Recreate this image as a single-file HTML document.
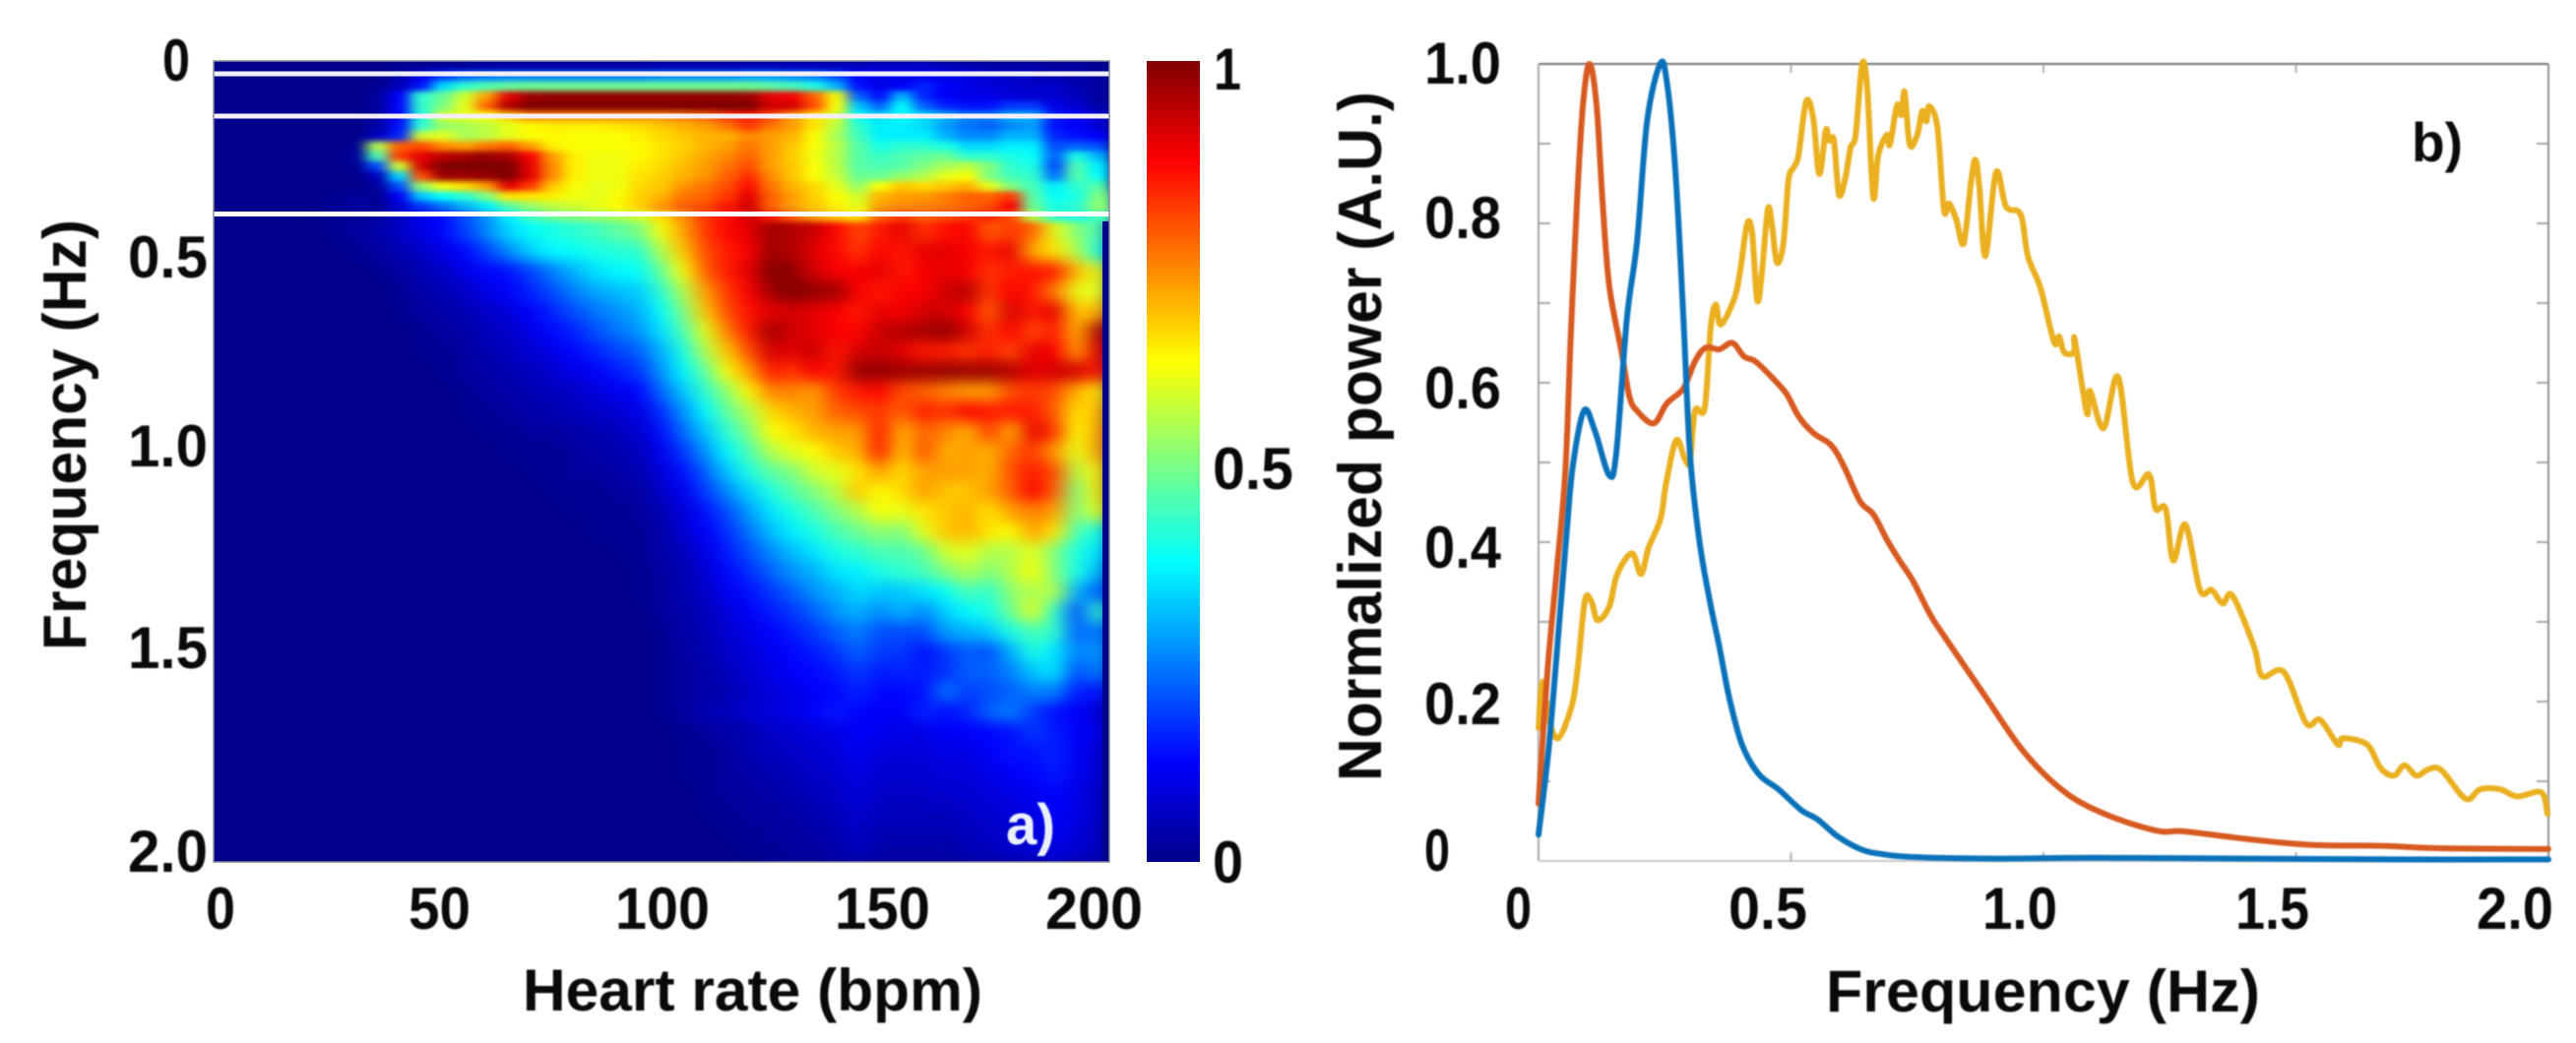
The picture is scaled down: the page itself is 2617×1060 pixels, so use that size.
<!DOCTYPE html>
<html lang="en">
<head>
<meta charset="utf-8">
<title>Heart rate frequency power</title>
<style>
html,body{margin:0;padding:0;background:#fff;}
svg{display:block;}
text{font-family:"Liberation Sans",sans-serif;font-weight:bold;fill:#0a0a0a;}
</style>
</head>
<body>
<svg id="figure" xmlns="http://www.w3.org/2000/svg" width="2617" height="1060" viewBox="0 0 2617 1060">
<defs>
<filter id="heat-blur-top" x="-2%" y="-5%" width="104%" height="110%" color-interpolation-filters="sRGB"><feGaussianBlur stdDeviation="7 3"/></filter>
<filter id="heat-blur-low" x="-3%" y="-3%" width="106%" height="106%" color-interpolation-filters="sRGB"><feGaussianBlur stdDeviation="10 7"/></filter>
<filter id="soft" x="-5%" y="-5%" width="110%" height="110%" color-interpolation-filters="sRGB"><feGaussianBlur stdDeviation="0.9"/></filter>
<clipPath id="heat-clip"><rect x="217" y="62" width="910" height="814"/></clipPath>
<linearGradient id="jet-gradient" x1="0" y1="1" x2="0" y2="0">
<stop offset="0" stop-color="#000088"/><stop offset="0.125" stop-color="#0000ff"/><stop offset="0.375" stop-color="#00ffff"/><stop offset="0.625" stop-color="#ffff00"/><stop offset="0.875" stop-color="#ff0000"/><stop offset="1" stop-color="#800000"/>
</linearGradient>
</defs>

<g>
<rect x="217" y="62" width="910" height="814" fill="#00008a"/>
<g clip-path="url(#heat-clip)">
<g id="heat-cells-low" filter="url(#heat-blur-low)"></g>
<g id="heat-cells-top" filter="url(#heat-blur-top)"></g>
</g>
<rect x="1120" y="225" width="7" height="651" fill="#00008a"/>
<rect x="217" y="72.5" width="910" height="5" fill="#eeeeff"/>
<rect x="217" y="115.5" width="910" height="5" fill="#f6eef6"/>
<rect x="217" y="215" width="910" height="5" fill="#ffffff"/>
<rect x="217" y="62" width="910" height="814" fill="none" stroke="#8a8a98" stroke-width="1.5"/>
<text x="1022" y="858" font-size="58" textLength="50" lengthAdjust="spacingAndGlyphs" style="fill:#eaf0ff" filter="url(#soft)">a)</text>
</g>

<g>
<rect x="1165" y="62" width="54" height="814" fill="url(#jet-gradient)"/>
<g filter="url(#soft)">
<text x="1233" y="91" font-size="60" textLength="28" lengthAdjust="spacingAndGlyphs">1</text>
<text x="1232" y="497" font-size="60" textLength="82" lengthAdjust="spacingAndGlyphs">0.5</text>
<text x="1232" y="897" font-size="60" textLength="31" lengthAdjust="spacingAndGlyphs">0</text>
</g>
</g>

<g filter="url(#soft)">
<text x="165" y="82" font-size="60" textLength="28" lengthAdjust="spacingAndGlyphs">0</text>
<text x="130" y="282" font-size="60" textLength="81" lengthAdjust="spacingAndGlyphs">0.5</text>
<text x="130" y="474" font-size="60" textLength="81" lengthAdjust="spacingAndGlyphs">1.0</text>
<text x="130" y="679" font-size="60" textLength="81" lengthAdjust="spacingAndGlyphs">1.5</text>
<text x="130" y="886" font-size="60" textLength="81" lengthAdjust="spacingAndGlyphs">2.0</text>
<text x="209" y="944" font-size="60" textLength="30" lengthAdjust="spacingAndGlyphs">0</text>
<text x="415" y="944" font-size="60" textLength="63" lengthAdjust="spacingAndGlyphs">50</text>
<text x="625" y="944" font-size="60" textLength="96" lengthAdjust="spacingAndGlyphs">100</text>
<text x="848" y="944" font-size="60" textLength="97" lengthAdjust="spacingAndGlyphs">150</text>
<text x="1062" y="944" font-size="60" textLength="99" lengthAdjust="spacingAndGlyphs">200</text>
<text x="531" y="1027" font-size="60" textLength="467" lengthAdjust="spacingAndGlyphs">Heart rate (bpm)</text>
<text transform="translate(87,661) rotate(-90)" font-size="62" textLength="438" lengthAdjust="spacingAndGlyphs">Frequency (Hz)</text>
</g>

<g>
<g id="axes-b" filter="url(#soft)"></g>
<g id="lines-b" filter="url(#soft)"></g>
<g filter="url(#soft)">
<text x="1447" y="85" font-size="60" textLength="78" lengthAdjust="spacingAndGlyphs">1.0</text>
<text x="1447" y="242" font-size="60" textLength="78" lengthAdjust="spacingAndGlyphs">0.8</text>
<text x="1447" y="415" font-size="60" textLength="78" lengthAdjust="spacingAndGlyphs">0.6</text>
<text x="1447" y="577" font-size="60" textLength="78" lengthAdjust="spacingAndGlyphs">0.4</text>
<text x="1447" y="736" font-size="60" textLength="78" lengthAdjust="spacingAndGlyphs">0.2</text>
<text x="1447" y="885" font-size="60" textLength="26" lengthAdjust="spacingAndGlyphs">0</text>
<text x="1529" y="944" font-size="60" textLength="27" lengthAdjust="spacingAndGlyphs">0</text>
<text x="1756" y="944" font-size="60" textLength="80" lengthAdjust="spacingAndGlyphs">0.5</text>
<text x="2014" y="944" font-size="60" textLength="76" lengthAdjust="spacingAndGlyphs">1.0</text>
<text x="2271" y="944" font-size="60" textLength="75" lengthAdjust="spacingAndGlyphs">1.5</text>
<text x="2516" y="944" font-size="60" textLength="78" lengthAdjust="spacingAndGlyphs">2.0</text>
<text x="1855" y="1028" font-size="60" textLength="441" lengthAdjust="spacingAndGlyphs">Frequency (Hz)</text>
<text transform="translate(1403,794) rotate(-90)" font-size="62" textLength="701" lengthAdjust="spacingAndGlyphs">Normalized power (A.U.)</text>
<text x="2450" y="164" font-size="56" textLength="52" lengthAdjust="spacingAndGlyphs">b)</text>
</g>
</g>
</svg>

<script>
// Heatmap bin edges
const heatBpmEdges = [0,5,10,15,20,25,30,35,40,45,50,55,60,65,70,75,80,85,90,95,100,105,110,115,120,125,130,135,140,145,150,155,160,165,170,175,180,185,190,195,200,205];
const heatFreqEdges = [0,0.025,0.05,0.075,0.1,0.125,0.15,0.175,0.2,0.225,0.25,0.275,0.3,0.325,0.35,0.375,0.4,0.45,0.5,0.55,0.6,0.65,0.7,0.75,0.8,0.85,0.9,0.95,1.0,1.05,1.1,1.15,1.2,1.25,1.3,1.35,1.4,1.45,1.5,1.55,1.6,1.65,1.7,1.75,1.8,1.85,1.9,1.95,2.0];
// First heart rate bin with measurable power in each frequency row
const heatRowStart = [8,8,7,7,7,7,7,7,6,6,6,7,7,7,7,6,5,6,7,8,8,9,9,10,11,11,12,13,14,15,16,17,18,19,19,20,20,20,20,20,20,21,21,21,22,22,23,24];
// Normalized power in percent, listed from that first bin to the last bin
const heatValues = [
[2,2,3,3,4,4,4,4,4,4,4,4,5,5,5,5,6,6,6,6,6,6,7,7,7,6,5,4,4,4,3,3,2],
[4,10,18,22,24,25,25,25,25,25,25,25,26,26,26,26,28,28,26,25,20,12,10,10,11,10,9,8,7,6,5,4,3],
[2,6,14,34,42,45,47,48,48,48,48,48,48,48,48,48,48,48,46,44,40,30,14,10,12,16,12,10,9,8,7,7,5,3],
[3,12,42,48,58,72,90,97,98,98,98,98,98,98,98,98,98,97,90,88,78,62,22,14,30,16,12,10,10,9,8,8,6,3],
[3,13,42,50,60,78,95,100,100,100,100,100,100,100,100,100,100,100,92,92,80,62,32,22,38,22,16,14,14,18,18,10,8,4],
[3,12,40,58,60,62,68,74,74,74,74,74,74,74,76,78,82,85,80,72,65,58,38,34,38,34,30,25,25,30,30,15,12,8],
[4,14,42,52,54,56,60,63,64,64,64,65,66,68,70,72,76,82,76,72,65,56,42,36,36,34,28,24,22,26,28,14,12,8],
[6,16,58,60,54,56,60,62,63,62,62,62,64,66,68,70,70,74,72,70,62,54,44,36,36,36,30,26,26,30,30,16,14,12],
[2,55,78,80,74,72,76,78,72,64,62,62,62,63,65,67,70,72,76,72,68,62,56,46,40,42,42,40,34,34,36,36,20,22,20],
[3,45,82,90,94,96,98,96,88,72,64,61,61,63,65,68,71,74,78,72,67,61,55,46,43,45,47,48,42,42,40,38,22,40,30],
[2,20,58,92,100,100,100,100,90,74,64,61,61,64,66,69,72,76,80,72,68,62,56,46,45,46,50,54,56,50,42,40,20,45,36],
[6,34,80,97,97,98,100,90,74,64,61,61,65,67,70,73,78,83,74,68,62,57,48,48,52,55,60,62,50,44,42,24,46,38],
[3,20,52,62,66,72,90,82,68,62,60,61,66,68,73,76,80,86,76,70,66,60,52,62,68,66,68,70,60,50,44,36,42,46],
[2,12,32,38,42,50,65,65,64,61,60,62,67,70,76,78,82,90,78,72,67,62,58,70,72,72,75,78,78,82,46,38,40,50],
[2,8,18,24,30,36,46,52,56,58,60,63,67,73,78,80,85,92,78,72,68,64,60,72,74,75,76,78,80,88,48,40,42,52],
[2,3,6,10,14,20,27,36,44,48,50,52,54,58,66,74,82,86,92,85,78,72,68,65,78,82,78,80,82,84,80,55,42,40,44],
[2,3,4,7,10,13,19,26,34,38,40,42,44,47,50,62,72,82,87,90,97,95,93,87,80,85,90,82,86,88,78,82,78,60,50,45],
[2,3,5,7,10,13,19,26,33,37,38,40,41,42,55,68,80,85,88,97,95,90,87,82,88,85,90,90,88,85,90,70,65,55,40],
[2,3,5,7,10,13,14,19,25,30,35,37,38,48,62,78,85,90,100,98,92,88,88,90,85,88,90,88,82,85,86,85,70,60],
[2,4,5,7,10,12,16,20,25,29,31,33,42,55,72,82,88,97,100,98,97,88,85,88,88,92,95,82,88,85,75,60,60],
[2,3,4,5,7,9,12,16,20,24,27,30,38,50,68,80,86,90,92,90,88,85,90,88,92,92,88,78,92,85,90,68,70],
[2,3,4,6,7,10,13,16,20,24,27,35,45,60,75,85,97,92,90,88,87,93,95,96,98,92,82,88,80,85,70,95],
[2,2,3,5,6,8,10,13,16,19,22,30,40,55,68,80,92,90,93,85,92,93,90,85,85,82,85,80,90,88,72,90],
[2,3,4,5,6,8,10,12,15,18,27,37,47,62,72,85,82,88,85,98,98,97,97,98,97,97,95,90,92,92,85],
[2,3,4,5,6,7,9,11,13,23,32,42,52,63,75,75,72,82,85,87,80,78,75,72,72,80,82,80,70,65],
[2,2,3,4,5,6,7,8,10,17,27,37,47,55,66,70,72,78,80,82,78,85,82,88,85,85,85,78,65,70],
[2,2,3,3,4,5,6,8,14,23,32,42,50,62,65,70,72,72,85,70,78,75,70,82,70,90,82,62,72],
[2,2,2,3,4,5,6,11,18,27,37,45,55,60,62,68,70,85,68,80,70,72,70,78,82,72,60,72],
[2,2,3,3,4,5,9,14,22,32,40,47,50,58,60,65,72,66,72,72,72,70,80,85,80,55,65],
[2,2,2,3,3,7,11,18,26,33,40,46,50,56,68,62,66,72,68,68,72,78,88,78,50,65],
[2,2,2,3,5,9,14,20,28,35,40,45,50,55,62,60,65,68,70,65,72,75,72,50,60],
[2,2,2,4,8,12,17,24,31,36,40,45,48,52,50,60,68,70,65,62,72,65,45,40],
[2,2,4,6,10,15,20,26,31,35,40,42,45,45,48,58,60,55,55,60,50,40,35],
[2,3,5,8,13,17,22,27,30,35,36,40,42,44,50,55,50,55,62,50,40,30],
[2,3,5,7,11,14,18,22,27,30,34,32,32,35,38,45,42,52,55,55,30,22],
[3,4,6,9,12,15,18,22,27,30,26,30,26,33,37,40,48,60,42,20,42],
[2,4,5,8,10,12,15,18,22,25,20,20,20,28,30,32,40,45,42,22,25],
[2,3,5,7,9,11,13,15,18,22,18,18,14,18,22,20,30,40,35,25,28],
[2,3,4,6,8,10,12,13,15,18,15,16,15,17,22,22,25,32,35,20,25],
[2,3,4,5,7,9,10,12,13,16,13,13,14,24,18,20,22,25,25,15,15],
[2,3,5,6,8,9,10,12,15,12,12,12,16,14,16,22,25,18,14,12,8].slice(0,21),
[2,3,4,5,7,8,9,10,12,11,10,10,12,12,13,14,18,15,12,10],
[2,2,3,5,6,7,8,9,11,9,9,9,10,10,12,14,14,16,12,8],
[2,2,3,4,5,6,7,8,10,8,8,8,9,9,10,12,13,15,11,8],
[2,3,3,4,5,6,7,9,7,7,7,8,8,9,10,11,13,10,7],
[2,2,3,3,4,5,6,8,6,6,6,6,7,8,9,10,12,10,7],
[2,2,3,3,4,5,7,5,5,5,5,6,7,8,9,11,9,6],
[2,2,3,3,4,6,4,4,4,4,5,6,7,8,9,8,6]
];

// Line chart series
const blueFreq = [0,0.02,0.04,0.056,0.068,0.09,0.111,0.14,0.154,0.175,0.195,0.215,0.241,0.254,0.271,0.287,0.30,0.319,0.339,0.358,0.378,0.403,0.436,0.475,0.52,0.553,0.592,0.637,0.676,0.74,0.9,1.1,1.4,1.7,2.0];
const blueValues = [0.033,0.14,0.29,0.414,0.496,0.565,0.541,0.484,0.512,0.681,0.776,0.928,1.0,0.978,0.867,0.681,0.51,0.40,0.327,0.269,0.204,0.146,0.109,0.09,0.064,0.052,0.031,0.015,0.009,0.005,0.003,0.004,0.003,0.002,0.002];
const redFreq = [0,0.018,0.036,0.053,0.064,0.076,0.088,0.101,0.115,0.127,0.14,0.164,0.18,0.195,0.228,0.254,0.287,0.31,0.331,0.358,0.384,0.407,0.429,0.462,0.491,0.515,0.544,0.579,0.604,0.637,0.663,0.69,0.715,0.741,0.774,0.797,0.879,0.961,1.043,1.125,1.224,1.28,1.41,1.534,1.67,1.78,2.0];
const redValues = [0.072,0.24,0.364,0.488,0.66,0.825,0.948,1.0,0.948,0.825,0.722,0.64,0.583,0.565,0.549,0.574,0.593,0.627,0.644,0.642,0.65,0.633,0.627,0.607,0.586,0.558,0.537,0.522,0.496,0.451,0.435,0.403,0.377,0.352,0.311,0.288,0.212,0.137,0.086,0.058,0.038,0.037,0.027,0.02,0.019,0.016,0.015];
const yellowFreq = [0,0.008,0.02,0.039,0.066,0.078,0.092,0.105,0.117,0.14,0.156,0.185,0.203,0.218,0.242,0.253,0.273,0.29,0.30,0.31,0.329,0.341,0.351,0.361,0.388,0.40,0.413,0.423,0.433,0.442,0.454,0.462,0.472,0.485,0.495,0.505,0.515,0.53,0.544,0.556,0.569,0.575,0.585,0.595,0.608,0.618,0.628,0.641,0.651,0.663,0.673,0.69,0.696,0.71,0.719,0.725,0.735,0.75,0.76,0.768,0.774,0.79,0.803,0.813,0.827,0.842,0.856,0.865,0.873,0.885,0.906,0.926,0.955,0.969,0.994,1.021,1.031,1.041,1.06,1.062,1.086,1.092,1.119,1.148,1.177,1.209,1.222,1.242,1.257,1.281,1.31,1.333,1.355,1.374,1.417,1.433,1.476,1.52,1.548,1.583,1.593,1.641,1.667,1.694,1.715,1.739,1.762,1.788,1.836,1.865,1.904,1.938,1.986,1.998];
const yellowValues = [0.167,0.225,0.179,0.154,0.195,0.244,0.327,0.325,0.302,0.319,0.36,0.386,0.36,0.393,0.43,0.475,0.528,0.504,0.502,0.565,0.568,0.669,0.698,0.673,0.706,0.743,0.799,0.788,0.704,0.735,0.817,0.80,0.751,0.775,0.854,0.87,0.886,0.953,0.932,0.862,0.917,0.904,0.904,0.836,0.858,0.895,0.911,1.0,0.969,0.833,0.886,0.911,0.899,0.948,0.936,0.965,0.899,0.911,0.941,0.928,0.947,0.92,0.817,0.825,0.805,0.775,0.849,0.88,0.846,0.759,0.864,0.821,0.811,0.759,0.719,0.651,0.658,0.638,0.638,0.654,0.562,0.59,0.543,0.607,0.475,0.485,0.442,0.442,0.377,0.422,0.34,0.34,0.323,0.333,0.269,0.232,0.237,0.173,0.177,0.146,0.154,0.146,0.117,0.107,0.12,0.107,0.115,0.114,0.078,0.09,0.09,0.081,0.086,0.059];
const seriesNames = ["blue-series","orange-series","yellow-series"];

// Tick values
const lineXTicks = [0.5,1.0,1.5];
const lineYTicks = [0.1,0.2,0.3,0.4,0.5,0.6,0.7,0.8,0.9];

const svgNS = "http://www.w3.org/2000/svg";
const topRowCount = 16;
const heatX = bpm => 217 + (bpm / 205) * 910;
const heatY = f => 62 + (f / 2) * 814;
const lineX = f => 1563 + f * 513;
const lineY = v => 875 - v * 810;
const clamp = c => Math.max(0, Math.min(1, c));
function jet(p) {
  const v = p / 100;
  const r = clamp(1.5 - Math.abs(4 * v - 3));
  const g = clamp(1.5 - Math.abs(4 * v - 2));
  const b = clamp(1.5 - Math.abs(4 * v - 1));
  return "rgb(" + Math.round(r * 255) + "," + Math.round(g * 255) + "," + Math.round(b * 255) + ")";
}

const heatTop = document.getElementById("heat-cells-top");
const heatLow = document.getElementById("heat-cells-low");
heatValues.forEach(function (row, j) {
  row.forEach(function (val, k) {
    const i = heatRowStart[j] + k;
    if (i > 40) return;
    const cell = document.createElementNS(svgNS, "rect");
    
    
    const x0 = heatX(heatBpmEdges[i]);
    const x1 = heatX(heatBpmEdges[i + 1]);
    let y0 = heatY(heatFreqEdges[j]);
    const y1 = heatY(heatFreqEdges[j + 1]);
    if (j === topRowCount) y0 -= 30;
    cell.setAttribute("x", x0);
    cell.setAttribute("y", y0);
    cell.setAttribute("width", x1 - x0 + 0.6);
    cell.setAttribute("height", y1 - y0 + 0.6);
    cell.setAttribute("fill", jet(val));
    (j < topRowCount ? heatTop : heatLow).appendChild(cell);
  });
});

const axesGroup = document.getElementById("axes-b");
function addAxisLine(x1, y1, x2, y2, color, width) {
  const ln = document.createElementNS(svgNS, "line");
  
  
  ln.setAttribute("x1", x1);
  ln.setAttribute("y1", y1);
  ln.setAttribute("x2", x2);
  ln.setAttribute("y2", y2);
  ln.setAttribute("stroke", color);
  ln.setAttribute("stroke-width", width);
  axesGroup.appendChild(ln);
}
addAxisLine(lineX(0), lineY(1), lineX(2), lineY(1), "#707070", 2);
addAxisLine(lineX(0), lineY(0), lineX(0), lineY(1), "#a8a8a8", 2);
addAxisLine(lineX(2), lineY(0), lineX(2), lineY(1), "#909090", 2);
addAxisLine(lineX(0), lineY(0), lineX(2), lineY(0), "#c8c8c8", 2);
lineYTicks.forEach(function (t) {
  addAxisLine(lineX(0), lineY(t), lineX(0) + 12, lineY(t), "#909090", 1.6);
  addAxisLine(lineX(2), lineY(t), lineX(2) - 12, lineY(t), "#909090", 1.6);
});
lineXTicks.forEach(function (t) {
  addAxisLine(lineX(t), lineY(1), lineX(t), lineY(1) + 9, "#a0a0a0", 1.6);
  addAxisLine(lineX(t), lineY(0), lineX(t), lineY(0) - 9, "#a0a0a0", 1.6);
});

const linesGroup = document.getElementById("lines-b");
function smoothPath(xs, ys) {
  let d = "M" + xs[0].toFixed(1) + " " + ys[0].toFixed(1);
  for (let n = 0; n < xs.length - 1; n++) {
    const a = Math.max(n - 1, 0);
    const b = Math.min(n + 2, xs.length - 1);
    const c1x = xs[n] + (xs[n + 1] - xs[a]) / 6;
    const c1y = ys[n] + (ys[n + 1] - ys[a]) / 6;
    const c2x = xs[n + 1] - (xs[b] - xs[n]) / 6;
    const c2y = ys[n + 1] - (ys[b] - ys[n]) / 6;
    d += "C" + c1x.toFixed(1) + " " + c1y.toFixed(1) + " " + c2x.toFixed(1) + " " + c2y.toFixed(1) + " " + xs[n + 1].toFixed(1) + " " + ys[n + 1].toFixed(1);
  }
  return d;
}
function addSeries(name, freq, vals, color) {
  const path = document.createElementNS(svgNS, "path");
  
  
  path.setAttribute("d", smoothPath(freq.map(lineX), vals.map(lineY)));
  path.setAttribute("fill", "none");
  path.setAttribute("stroke", color);
  path.setAttribute("stroke-width", "6");
  path.setAttribute("stroke-linejoin", "round");
  path.setAttribute("stroke-linecap", "round");
  linesGroup.appendChild(path);
}
addSeries(seriesNames[2], yellowFreq, yellowValues, "#EAB020");
addSeries(seriesNames[1], redFreq, redValues, "#D85A20");
addSeries(seriesNames[0], blueFreq, blueValues, "#0A72BA");
</script>
</body>
</html>
